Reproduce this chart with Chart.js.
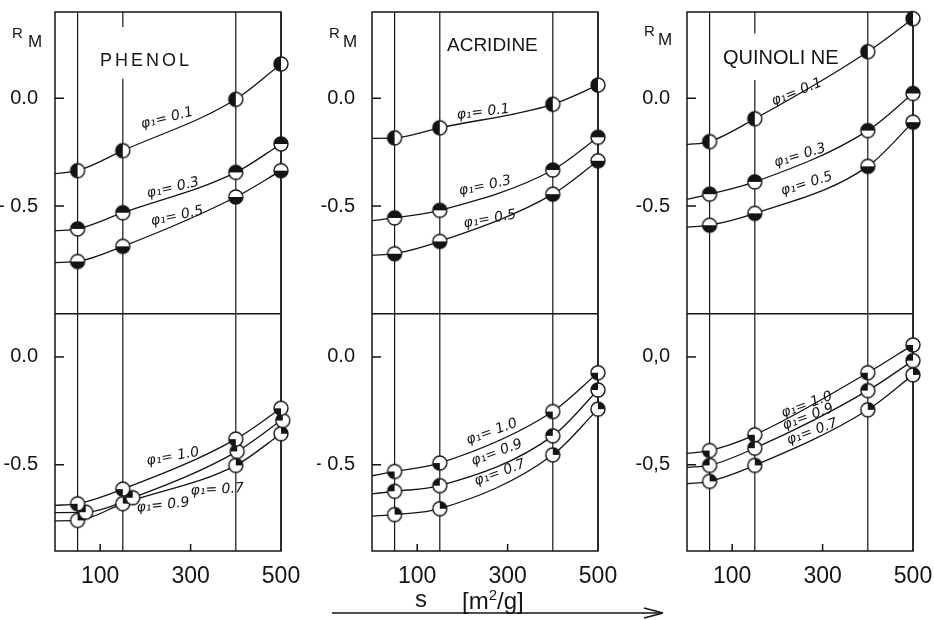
<!DOCTYPE html>
<html>
<head>
<meta charset="utf-8">
<script src="https://cdn.jsdelivr.net/npm/chart.js@4.4.1/dist/chart.umd.min.js"></script>
<style>
body { margin: 0; background: #fff; width: 934px; height: 620px; position: relative; overflow: hidden;
       font-family: "Liberation Sans", Arial, sans-serif; color: #141414; }
canvas { position: absolute; top: 0; }
.lbl { position: absolute; line-height: 1; white-space: nowrap; }
</style>
</head>
<body>
<canvas id="c1" width="306" height="620" style="left:0px"></canvas>
<canvas id="c2" width="306" height="620" style="left:317px"></canvas>
<canvas id="c3" width="306" height="620" style="left:632px"></canvas>

<div class="lbl" style="left:12px;top:25px;font-size:15px">R</div>
<div class="lbl" style="left:28px;top:33px;font-size:17px">M</div>
<div class="lbl" style="left:329px;top:25px;font-size:15px">R</div>
<div class="lbl" style="left:343px;top:33px;font-size:17px">M</div>
<div class="lbl" style="left:644px;top:23px;font-size:15px">R</div>
<div class="lbl" style="left:658px;top:31px;font-size:17px">M</div>

<div class="lbl" style="left:100px;top:51px;font-size:18px;letter-spacing:3px">PHENOL</div>
<div class="lbl" style="left:447px;top:35px;font-size:19px">ACRIDINE</div>
<div class="lbl" style="left:723px;top:47px;font-size:20px">QUINOLI NE</div>

<div class="lbl" style="left:415px;top:587px;font-size:24px">s</div>
<div class="lbl" style="left:462px;top:587px;font-size:24px">[m<sup style="font-size:15px;vertical-align:9px">2</sup>/g]</div>
<svg style="position:absolute;left:330px;top:605px" width="340" height="16">
  <line x1="2" y1="8" x2="333" y2="8" stroke="#141414" stroke-width="1.5"/>
  <path d="M333 8 L314 3 M333 8 L314 13" stroke="#141414" stroke-width="1.5" fill="none"/>
</svg>

<script>
// measured specific surfaces s [m2/g] and axis ticks
var sValues = [50, 150, 400, 500];
var gridS = [50, 150, 400, 500];
var xTicks = [100, 300, 500];
var yTickValues = [-0.5, 0.0];
var topPhi = ['0.1', '0.3', '0.5'];
var botPhi = ['1.0', '0.9', '0.7'];

// PHENOL, R_M at s = 50,150,400,500 ; *Start = where the curve meets the left axis
var phenolTop01 = [-0.336, -0.243, -0.005, 0.159];
var phenolTop03 = [-0.606, -0.531, -0.344, -0.212];
var phenolTop05 = [-0.757, -0.687, -0.458, -0.336];
var phenolTopStart = [-0.35, -0.614, -0.762];
var phenolBot10 = [-0.681, -0.613, -0.381, -0.238];
var phenolBot09 = [-0.720, -0.653, -0.438, -0.295];
var phenolBot07 = [-0.758, -0.680, -0.503, -0.356];
var phenolBotStart = [-0.688, -0.722, -0.760];
var phenolBotX09 = [68, 172, 403, 504];

// ACRIDINE
var acridineTop01 = [-0.184, -0.137, -0.028, 0.061];
var acridineTop03 = [-0.555, -0.520, -0.333, -0.181];
var acridineTop05 = [-0.721, -0.664, -0.445, -0.290];
var acridineTopStart = [-0.186, -0.568, -0.728];
var acridineBot10 = [-0.531, -0.492, -0.253, -0.073];
var acridineBot09 = [-0.623, -0.597, -0.366, -0.153];
var acridineBot07 = [-0.731, -0.704, -0.454, -0.242];
var acridineBotStart = [-0.551, -0.635, -0.738];

// QUINOLINE
var quinolineTop01 = [-0.201, -0.095, 0.216, 0.369];
var quinolineTop03 = [-0.445, -0.388, -0.150, 0.022];
var quinolineTop05 = [-0.589, -0.534, -0.316, -0.111];
var quinolineTopStart = [-0.215, -0.469, -0.598];
var quinolineBot10 = [-0.434, -0.361, -0.073, 0.056];
var quinolineBot09 = [-0.503, -0.423, -0.156, -0.017];
var quinolineBot07 = [-0.577, -0.503, -0.245, -0.083];
var quinolineBotStart = [-0.447, -0.512, -0.588];

var phenolTickTop = ['- 0.5', '0.0'], phenolTickBot = ['-0.5', '0.0'];
var acridineTickTop = ['-0.5', '0.0'], acridineTickBot = ['- 0.5', '0.0'];
var quinolineTickTop = ['-0.5', '0.0'], quinolineTickBot = ['-0,5', '0,0'];

// ---- styling / placement ----
var ink = '#141414';
var FONT = '"Liberation Sans", Arial, sans-serif';

function marker(kind) {
  var c = document.createElement('canvas');
  c.width = 18; c.height = 18;
  var g = c.getContext('2d');
  var r = 7, cx = 9, cy = 9, P = Math.PI;
  var arcs = { left: [0.5 * P, 1.5 * P], top: [P, 2 * P], bottom: [0, P],
               tl: [P, 1.5 * P], bl: [0.5 * P, P], tr: [1.5 * P, 2 * P] };
  g.beginPath(); g.arc(cx, cy, r, 0, 2 * P); g.fillStyle = '#fff'; g.fill();
  g.beginPath(); g.moveTo(cx, cy); g.arc(cx, cy, r, arcs[kind][0], arcs[kind][1]); g.closePath();
  g.fillStyle = ink; g.fill();
  g.beginPath(); g.arc(cx, cy, r, 0, 2 * P); g.lineWidth = 1.4; g.strokeStyle = ink; g.stroke();
  return c;
}
var markerStyle = { '0.1': marker('left'), '0.3': marker('top'), '0.5': marker('bottom'),
                    '1.0': marker('bl'), '0.9': marker('tl'), '0.7': marker('tr') };

// label anchors in data units [s, R_M, angle deg]
var curveLabelPos = {
  c1: { top: [[248, -0.093, -14], [261, -0.416, -13], [270, -0.547, -12]],
        bot: [[261, -0.463, -10], [239, -0.688, -6], [359, -0.616, -3]] },
  c2: { top: [[246, -0.065, -7], [250, -0.407, -12], [261, -0.561, -10]],
        bot: [[265, -0.347, -20], [276, -0.444, -20], [283, -0.537, -20]] },
  c3: { top: [[243, 0.028, -22], [250, -0.266, -17], [265, -0.397, -17]],
        bot: [[265, -0.222, -20], [268, -0.278, -20], [277, -0.347, -20]] }
};
// where the s=150 line is broken round the title
var titleGap = { c1: [0.33, 0.09], c2: null, c3: [0.30, 0.085] };

var columns = [
  { id: 'c1', top: [phenolTop01, phenolTop03, phenolTop05], topStart: phenolTopStart,
    bot: [phenolBot10, phenolBot09, phenolBot07], botStart: phenolBotStart,
    botX: [sValues, phenolBotX09, sValues], tickTop: phenolTickTop, tickBot: phenolTickBot },
  { id: 'c2', top: [acridineTop01, acridineTop03, acridineTop05], topStart: acridineTopStart,
    bot: [acridineBot10, acridineBot09, acridineBot07], botStart: acridineBotStart,
    botX: [sValues, sValues, sValues], tickTop: acridineTickTop, tickBot: acridineTickBot },
  { id: 'c3', top: [quinolineTop01, quinolineTop03, quinolineTop05], topStart: quinolineTopStart,
    bot: [quinolineBot10, quinolineBot09, quinolineBot07], botStart: quinolineBotStart,
    botX: [sValues, sValues, sValues], tickTop: quinolineTickTop, tickBot: quinolineTickBot }
];

function series(xs, ys, start, phi, axis) {
  var curve = [{ x: 0, y: start }];
  var pts = [];
  for (var i = 0; i < ys.length; i++) {
    curve.push({ x: Math.min(xs[i], 500), y: ys[i] });
    pts.push({ x: xs[i], y: ys[i] });
  }
  return [
    { data: curve, yAxisID: axis, borderColor: ink, borderWidth: 1.3, pointRadius: 0,
      cubicInterpolationMode: 'monotone', order: 2 },
    { data: pts, yAxisID: axis, showLine: false, pointStyle: markerStyle[phi], pointRadius: 7,
      order: 1, clip: false }
  ];
}

var framePlugin = {
  id: 'frame',
  beforeDatasetsDraw: function (chart) {
    var a = chart.chartArea, ctx = chart.ctx;
    var x = chart.scales.x, yt = chart.scales.yTop, yb = chart.scales.yBot;
    var gap = titleGap[chart.canvas.id];
    ctx.save();
    ctx.strokeStyle = ink;
    ctx.lineWidth = 1.2;
    gridS.forEach(function (s) {
      var px = x.getPixelForValue(s);
      ctx.beginPath();
      if (gap && s === 150) {
        ctx.moveTo(px, a.top); ctx.lineTo(px, yt.getPixelForValue(gap[0]));
        ctx.moveTo(px, yt.getPixelForValue(gap[1]));
      } else {
        ctx.moveTo(px, a.top);
      }
      ctx.lineTo(px, a.bottom);
      ctx.stroke();
    });
    ctx.lineWidth = 1.5;
    ctx.strokeRect(a.left, a.top, a.right - a.left, a.bottom - a.top);
    ctx.beginPath(); ctx.moveTo(a.left, yt.bottom); ctx.lineTo(a.right, yt.bottom); ctx.stroke();
    [yt, yb].forEach(function (sc) {
      yTickValues.forEach(function (v) {
        var py = sc.getPixelForValue(v);
        ctx.beginPath(); ctx.moveTo(a.left, py); ctx.lineTo(a.left + 9, py); ctx.stroke();
      });
    });
    [100, 300].forEach(function (v) {
      var px = x.getPixelForValue(v);
      ctx.beginPath(); ctx.moveTo(px, a.bottom); ctx.lineTo(px, a.bottom - 7); ctx.stroke();
    });
    ctx.restore();
  },
  afterDatasetsDraw: function (chart) {
    var pos = curveLabelPos[chart.canvas.id], ctx = chart.ctx, x = chart.scales.x;
    ctx.save();
    ctx.fillStyle = ink;
    ctx.font = 'italic 14px "DejaVu Sans", sans-serif';
    ctx.textAlign = 'center';
    ctx.textBaseline = 'middle';
    [['top', topPhi, chart.scales.yTop], ['bot', botPhi, chart.scales.yBot]].forEach(function (p) {
      pos[p[0]].forEach(function (l, i) {
        ctx.save();
        ctx.translate(x.getPixelForValue(l[0]), p[2].getPixelForValue(l[1]));
        ctx.rotate(l[2] * Math.PI / 180);
        ctx.fillText('\u03C6\u2081= ' + p[1][i], 0, 0);
        ctx.restore();
      });
    });
    ctx.restore();
  }
};

function fitY(s) { s.width = 55; s.paddingTop = 0; s.paddingBottom = 0; }

columns.forEach(function (col) {
  var ds = [];
  for (var i = 0; i < 3; i++) {
    ds = ds.concat(series(sValues, col.top[i], col.topStart[i], topPhi[i], 'yTop'));
    ds = ds.concat(series(col.botX[i], col.bot[i], col.botStart[i], botPhi[i], 'yBot'));
  }
  new Chart(document.getElementById(col.id), {
    type: 'line',
    data: { datasets: ds },
    options: {
      responsive: false, animation: false, devicePixelRatio: 1,
      layout: { padding: { top: 12, right: 25, left: 0, bottom: 0 } },
      plugins: { legend: { display: false }, tooltip: { enabled: false } },
      scales: {
        x: {
          type: 'linear', min: 0, max: 500,
          grid: { display: false }, border: { display: false },
          afterBuildTicks: function (s) { s.ticks = xTicks.map(function (v) { return { value: v }; }); },
          afterFit: function (s) { s.height = 69; },
          ticks: { font: { family: FONT, size: 23 }, color: ink, padding: 4, maxRotation: 0, autoSkip: false }
        },
        yTop: {
          type: 'linear', position: 'left', stack: 'col', stackWeight: 1.4, weight: 2,
          min: -1.0, max: 0.4,
          grid: { display: false }, border: { display: false },
          afterBuildTicks: function (s) { s.ticks = yTickValues.map(function (v) { return { value: v }; }); },
          afterFit: fitY,
          ticks: { font: { family: FONT, size: 20 }, color: ink, padding: 9,
                   callback: function (v, i) { return col.tickTop[i]; } }
        },
        yBot: {
          type: 'linear', position: 'left', stack: 'col', stackWeight: 1.1, weight: 1,
          min: -0.9, max: 0.2,
          grid: { display: false }, border: { display: false },
          afterBuildTicks: function (s) { s.ticks = yTickValues.map(function (v) { return { value: v }; }); },
          afterFit: fitY,
          ticks: { font: { family: FONT, size: 20 }, color: ink, padding: 9,
                   callback: function (v, i) { return col.tickBot[i]; } }
        }
      }
    },
    plugins: [framePlugin]
  });
});
</script>
</body>
</html>
